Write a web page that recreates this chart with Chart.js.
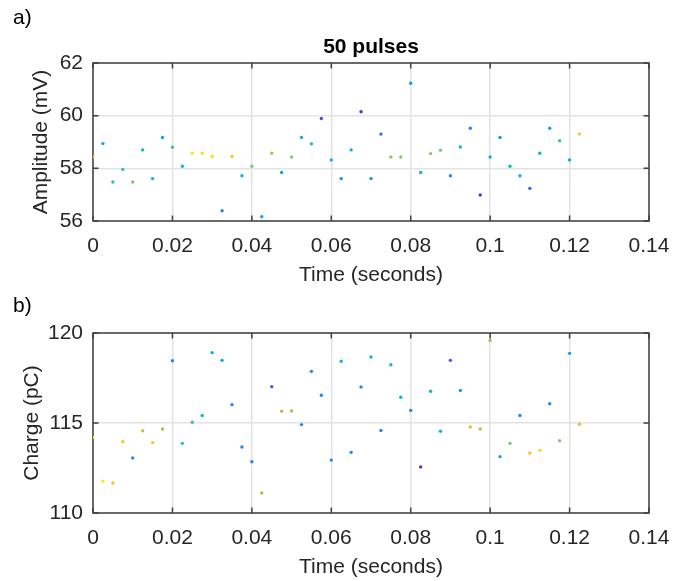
<!DOCTYPE html>
<html>
<head>
<meta charset="utf-8">
<script src="https://cdn.jsdelivr.net/npm/chart.js@4.4.1/dist/chart.umd.min.js"></script>
<style>
  html, body { margin: 0; padding: 0; background: #fff; }
  .panel { position: absolute; left: 0; width: 686px; }
  #panelA { top: 0; height: 290px; }
  #panelB { top: 290px; height: 291px; }
</style>
</head>
<body>
<div class="panel" id="panelA"><canvas id="ampChart"></canvas></div>
<div class="panel" id="panelB"><canvas id="chargeChart"></canvas></div>
<script>
// pulse times (s)
const pulseTimes = [
    0, 0.0025, 0.005, 0.0075, 0.01, 0.0125, 0.015, 0.0175, 0.02, 0.0225,
    0.025, 0.0275, 0.03, 0.0325, 0.035, 0.0375, 0.04, 0.0425, 0.045, 0.0475,
    0.05, 0.0525, 0.055, 0.0575, 0.06, 0.0625, 0.065, 0.0675, 0.07, 0.0725,
    0.075, 0.0775, 0.08, 0.0825, 0.085, 0.0875, 0.09, 0.0925, 0.095, 0.0975,
    0.1, 0.1025, 0.105, 0.1075, 0.11, 0.1125, 0.115, 0.1175, 0.12, 0.1225
];

// amplitude (mV) and its colour level (0..1)
const amplitude = [
    58.43, 58.94, 57.48, 57.96, 57.48, 58.70, 57.61, 59.17, 58.80, 58.08,
    58.57, 58.57, 58.45, 56.39, 58.45, 57.72, 58.08, 56.16, 58.57, 57.84,
    58.43, 59.17, 58.93, 59.89, 58.32, 57.61, 58.70, 60.15, 57.61, 59.30,
    58.43, 58.43, 61.23, 57.84, 58.56, 58.69, 57.72, 58.81, 59.52, 56.99,
    58.43, 59.17, 58.08, 57.72, 57.24, 58.57, 59.52, 59.05, 58.32, 59.30
];
const amplitudeLevel = [
    0.85, 0.35, 0.5, 0.5, 0.6, 0.38, 0.38, 0.3, 0.5, 0.4,
    0.95, 0.95, 0.93, 0.2, 0.85, 0.38, 0.6, 0.3, 0.7, 0.3,
    0.62, 0.35, 0.42, 0.1, 0.35, 0.22, 0.35, 0.05, 0.22, 0.15,
    0.62, 0.62, 0.28, 0.35, 0.62, 0.58, 0.22, 0.38, 0.2, 0.05,
    0.35, 0.25, 0.4, 0.35, 0.12, 0.35, 0.3, 0.5, 0.35, 0.85
];

// charge (pC) and its colour level (0..1)
const charge = [
    114.20, 111.76, 111.67, 113.96, 113.06, 114.57, 113.91, 114.67, 118.46, 113.87,
    115.04, 115.42, 118.91, 118.48, 116.02, 113.67, 112.85, 111.11, 117.02, 115.65,
    115.67, 114.91, 117.87, 116.54, 112.94, 118.43, 113.37, 117.00, 118.67, 114.59,
    118.24, 116.43, 115.70, 112.56, 116.76, 114.54, 118.48, 116.81, 114.78, 114.67,
    119.58, 113.13, 113.87, 115.42, 113.33, 113.48, 116.07, 114.01, 118.87, 114.93
];
const chargeLevel = [
    0.97, 0.97, 0.85, 0.85, 0.22, 0.72, 0.85, 0.65, 0.22, 0.45,
    0.5, 0.38, 0.32, 0.32, 0.22, 0.22, 0.2, 0.65, 0.12, 0.7,
    0.7, 0.22, 0.22, 0.22, 0.22, 0.38, 0.22, 0.22, 0.38, 0.2,
    0.38, 0.38, 0.22, 0.05, 0.38, 0.38, 0.12, 0.25, 0.8, 0.72,
    0.65, 0.3, 0.58, 0.22, 0.85, 0.92, 0.22, 0.62, 0.3, 0.8
];

// tick labels
const timeTicks = [0, 0.02, 0.04, 0.06, 0.08, 0.1, 0.12, 0.14];
const amplitudeTicks = [56, 58, 60, 62];
const chargeTicks = [110, 115, 120];

// parula-like colormap
const parulaStops = [
    [62, 38, 168], [70, 80, 240], [40, 130, 235], [15, 165, 225], [20, 185, 195],
    [60, 195, 145], [130, 200, 110], [190, 190, 70], [240, 185, 60], [250, 205, 45], [250, 245, 20]
];
function parula(v) {
    const p = Math.min(Math.max(v, 0), 1) * (parulaStops.length - 1);
    const i = Math.min(Math.floor(p), parulaStops.length - 2);
    const f = p - i;
    const c = parulaStops[i].map((a, k) => Math.round(a + (parulaStops[i + 1][k] - a) * f));
    return 'rgb(' + c.join(',') + ')';
}

Chart.defaults.font.family = "'Liberation Sans', Arial, sans-serif";
Chart.defaults.color = '#262626';

const FONT = { size: 21, lineHeight: 1.2 };

// MATLAB style box with inward ticks, plus panel letter and title
const boxPlugin = {
    id: 'matlabBox',
    beforeDatasetsDraw(chart) {
        const { ctx, chartArea: a, scales: { x, y } } = chart;
        ctx.save();
        ctx.strokeStyle = '#404040';
        ctx.lineWidth = 1.5;
        ctx.strokeRect(a.left, a.top, a.right - a.left, a.bottom - a.top);
        ctx.beginPath();
        x.ticks.forEach(t => {
            const px = x.getPixelForValue(t.value);
            ctx.moveTo(px, a.bottom); ctx.lineTo(px, a.bottom - 5.5);
            ctx.moveTo(px, a.top); ctx.lineTo(px, a.top + 5.5);
        });
        y.ticks.forEach(t => {
            const py = y.getPixelForValue(t.value);
            ctx.moveTo(a.left, py); ctx.lineTo(a.left + 5.5, py);
            ctx.moveTo(a.right, py); ctx.lineTo(a.right - 5.5, py);
        });
        ctx.stroke();
        ctx.restore();
    },
    afterDraw(chart, args, opts) {
        const { ctx, chartArea: a } = chart;
        ctx.save();
        ctx.fillStyle = '#000';
        ctx.textBaseline = 'middle';
        ctx.textAlign = 'left';
        ctx.font = "21px 'Liberation Sans', Arial, sans-serif";
        ctx.fillText(opts.label, 13, opts.labelY);
        if (opts.title) {
            ctx.textAlign = 'center';
            ctx.font = "bold 21px 'Liberation Sans', Arial, sans-serif";
            ctx.fillText(opts.title, (a.left + a.right) / 2, opts.titleY);
        }
        ctx.restore();
    }
};

function makeChart(canvasId, values, levels, yTicks, yLabel, cfg) {
    return new Chart(document.getElementById(canvasId), {
        type: 'scatter',
        data: {
            datasets: [{
                data: pulseTimes.map((t, i) => ({ x: t, y: values[i] })),
                backgroundColor: levels.map(parula),
                borderWidth: 0,
                pointRadius: 1.7
            }]
        },
        options: {
            responsive: true,
            maintainAspectRatio: false,
            animation: false,
            layout: { padding: { top: cfg.top, right: 37, left: 0, bottom: 0 } },
            plugins: {
                legend: { display: false },
                tooltip: { enabled: false },
                matlabBox: { label: cfg.label, labelY: cfg.labelY, title: cfg.title, titleY: cfg.titleY }
            },
            scales: {
                x: {
                    type: 'linear',
                    min: timeTicks[0],
                    max: timeTicks[timeTicks.length - 1],
                    afterBuildTicks: s => { s.ticks = timeTicks.map(v => ({ value: v })); },
                    afterFit: s => { s.height = cfg.xHeight; },
                    grid: { color: '#e3e3e3', lineWidth: 1.5, drawTicks: false },
                    border: { display: false },
                    ticks: {
                        font: FONT, padding: 13, maxRotation: 0, autoSkip: false,
                        callback: v => String(+Number(v).toFixed(4))
                    },
                    title: { display: true, text: 'Time (seconds)', font: FONT, padding: { top: 0, bottom: cfg.xTitlePad } }
                },
                y: {
                    type: 'linear',
                    min: yTicks[0],
                    max: yTicks[yTicks.length - 1],
                    afterBuildTicks: s => { s.ticks = yTicks.map(v => ({ value: v })); },
                    afterFit: s => { s.width = 93; },
                    grid: { color: '#e3e3e3', lineWidth: 1.5, drawTicks: false },
                    border: { display: false },
                    ticks: { font: FONT, padding: 10 },
                    title: { display: true, text: yLabel, font: FONT, padding: { top: cfg.yTitlePad, bottom: 0 } }
                }
            }
        },
        plugins: [boxPlugin]
    });
}

makeChart('ampChart', amplitude, amplitudeLevel, amplitudeTicks, 'Amplitude (mV)', {
    top: 63, xHeight: 69, xTitlePad: 2.4, yTitlePad: 29,
    label: 'a)', labelY: 18, title: '50 pulses', titleY: 47
});
makeChart('chargeChart', charge, chargeLevel, chargeTicks, 'Charge (pC)', {
    top: 43, xHeight: 68, xTitlePad: 1.6, yTitlePad: 20,
    label: 'b)', labelY: 16, title: null, titleY: 0
});
</script>
</body>
</html>
